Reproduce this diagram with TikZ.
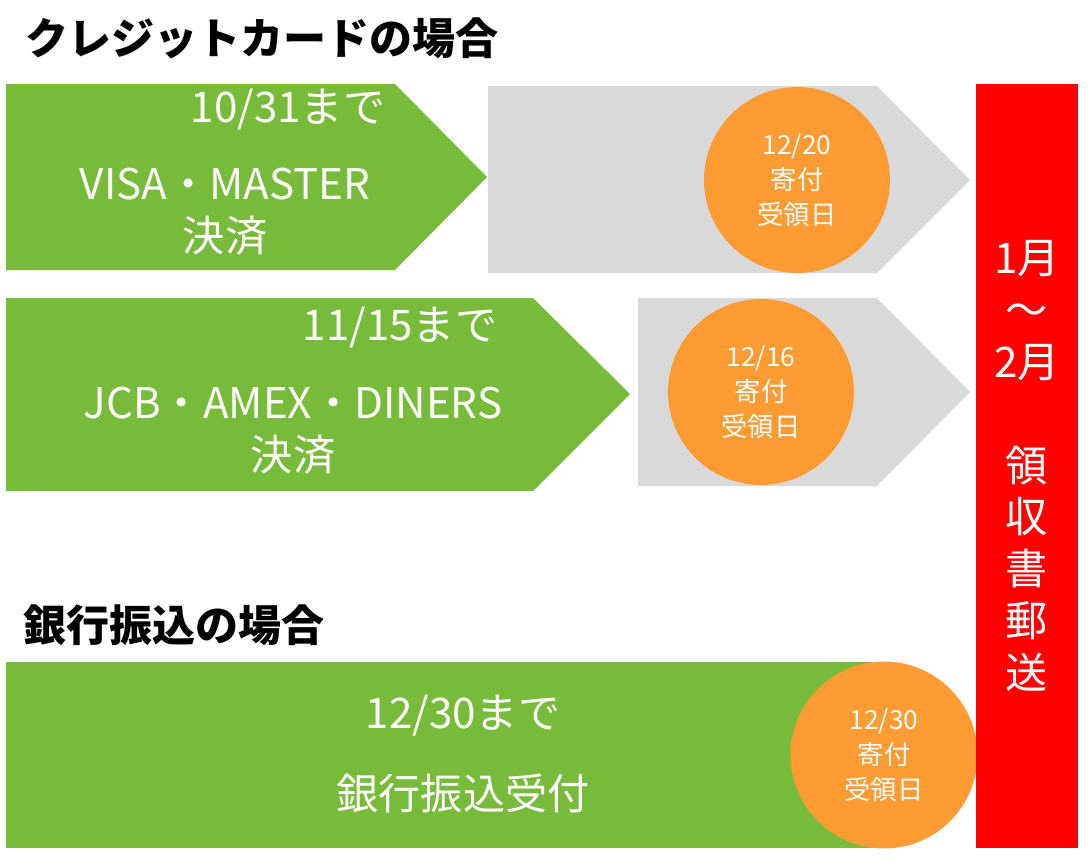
\documentclass[tikz,border=0pt]{standalone}
\usepackage{fontspec}
\setmainfont{Noto Sans CJK JP}
\usetikzlibrary{positioning}
\definecolor{Leaf}{HTML}{78BB3A}
\definecolor{Fog}{HTML}{D9D9D9}
\definecolor{Tangerine}{HTML}{FF9B33}
\definecolor{Alarm}{HTML}{FF0000}
\tikzset{
  heading/.style={anchor=west, inner sep=0pt, font=\bfseries\fontsize{24.5}{28}\selectfont},
  leafbar/.style={fill=Leaf},
  fogbar/.style={fill=Fog},
  bartext/.style={text=white, align=center, inner sep=0pt, font=\fontsize{24}{29.5}\selectfont},
  stamp/.style={
    circle, fill=Tangerine, text=white, align=center,
    minimum size=3.72cm, inner sep=0pt, font=\fontsize{15}{19.8}\selectfont
  },
  mailbar/.style={
    fill=Alarm, text=white, align=center, inner sep=0pt,
    minimum width=2.04cm, minimum height=15.28cm, font=\fontsize{24}{29.5}\selectfont
  }
}

\begin{document}
\begin{tikzpicture}[x=0.02cm,y=-0.02cm]
    \useasboundingbox (0,0) rectangle (1088,862);
    % クレジットカード
    \node[heading] (cardtitle) at (25,38) {クレジットカードの場合};
    \fill[leafbar] (6,84) -- (395,84) -- (487,177) -- (395,270) -- (6,270) -- cycle;
    \fill[fogbar] (488,86) -- (877,86) -- (970,180) -- (877,273) -- (488,273) -- cycle;
    \node[stamp] (visaday) at (797,180) {12/20\\寄付\\受領日};
    \node[bartext] (visadate) at (288,110) {10/31まで};
    \node[bartext] (visapay) at (225,212) {VISA・MASTER\\決済};

    \fill[leafbar] (6,298) -- (533,298) -- (630,394) -- (533,491) -- (6,491) -- cycle;
    \fill[fogbar] (638,298) -- (877,298) -- (970,392) -- (877,486) -- (638,486) -- cycle;
    \node[stamp] (jcbday) at (761,392) {12/16\\寄付\\受領日};
    \node[bartext] (jcbdate) at (400,328) {11/15まで};
    \node[bartext] (jcbpay) at (293,431) {JCB・AMEX・DINERS\\決済};

    % 銀行振込
    \node[heading] (banktitle) at (23,625) {銀行振込の場合};
    \fill[leafbar] (6,662) rectangle (884,848);
    \node[stamp,minimum size=3.74cm] (bankday) at (884,755) {12/30\\寄付\\受領日};
    \node[bartext] (bankdate) at (463,716) {12/30まで};
    \node[bartext] (bankpay) at (463,793) {銀行振込受付};

    % 領収書
    \node[mailbar] (receipt) at (1027,466) {1月\\～\\2月\\[29.5pt]領\\収\\書\\郵\\送};
\end{tikzpicture}
\end{document}
